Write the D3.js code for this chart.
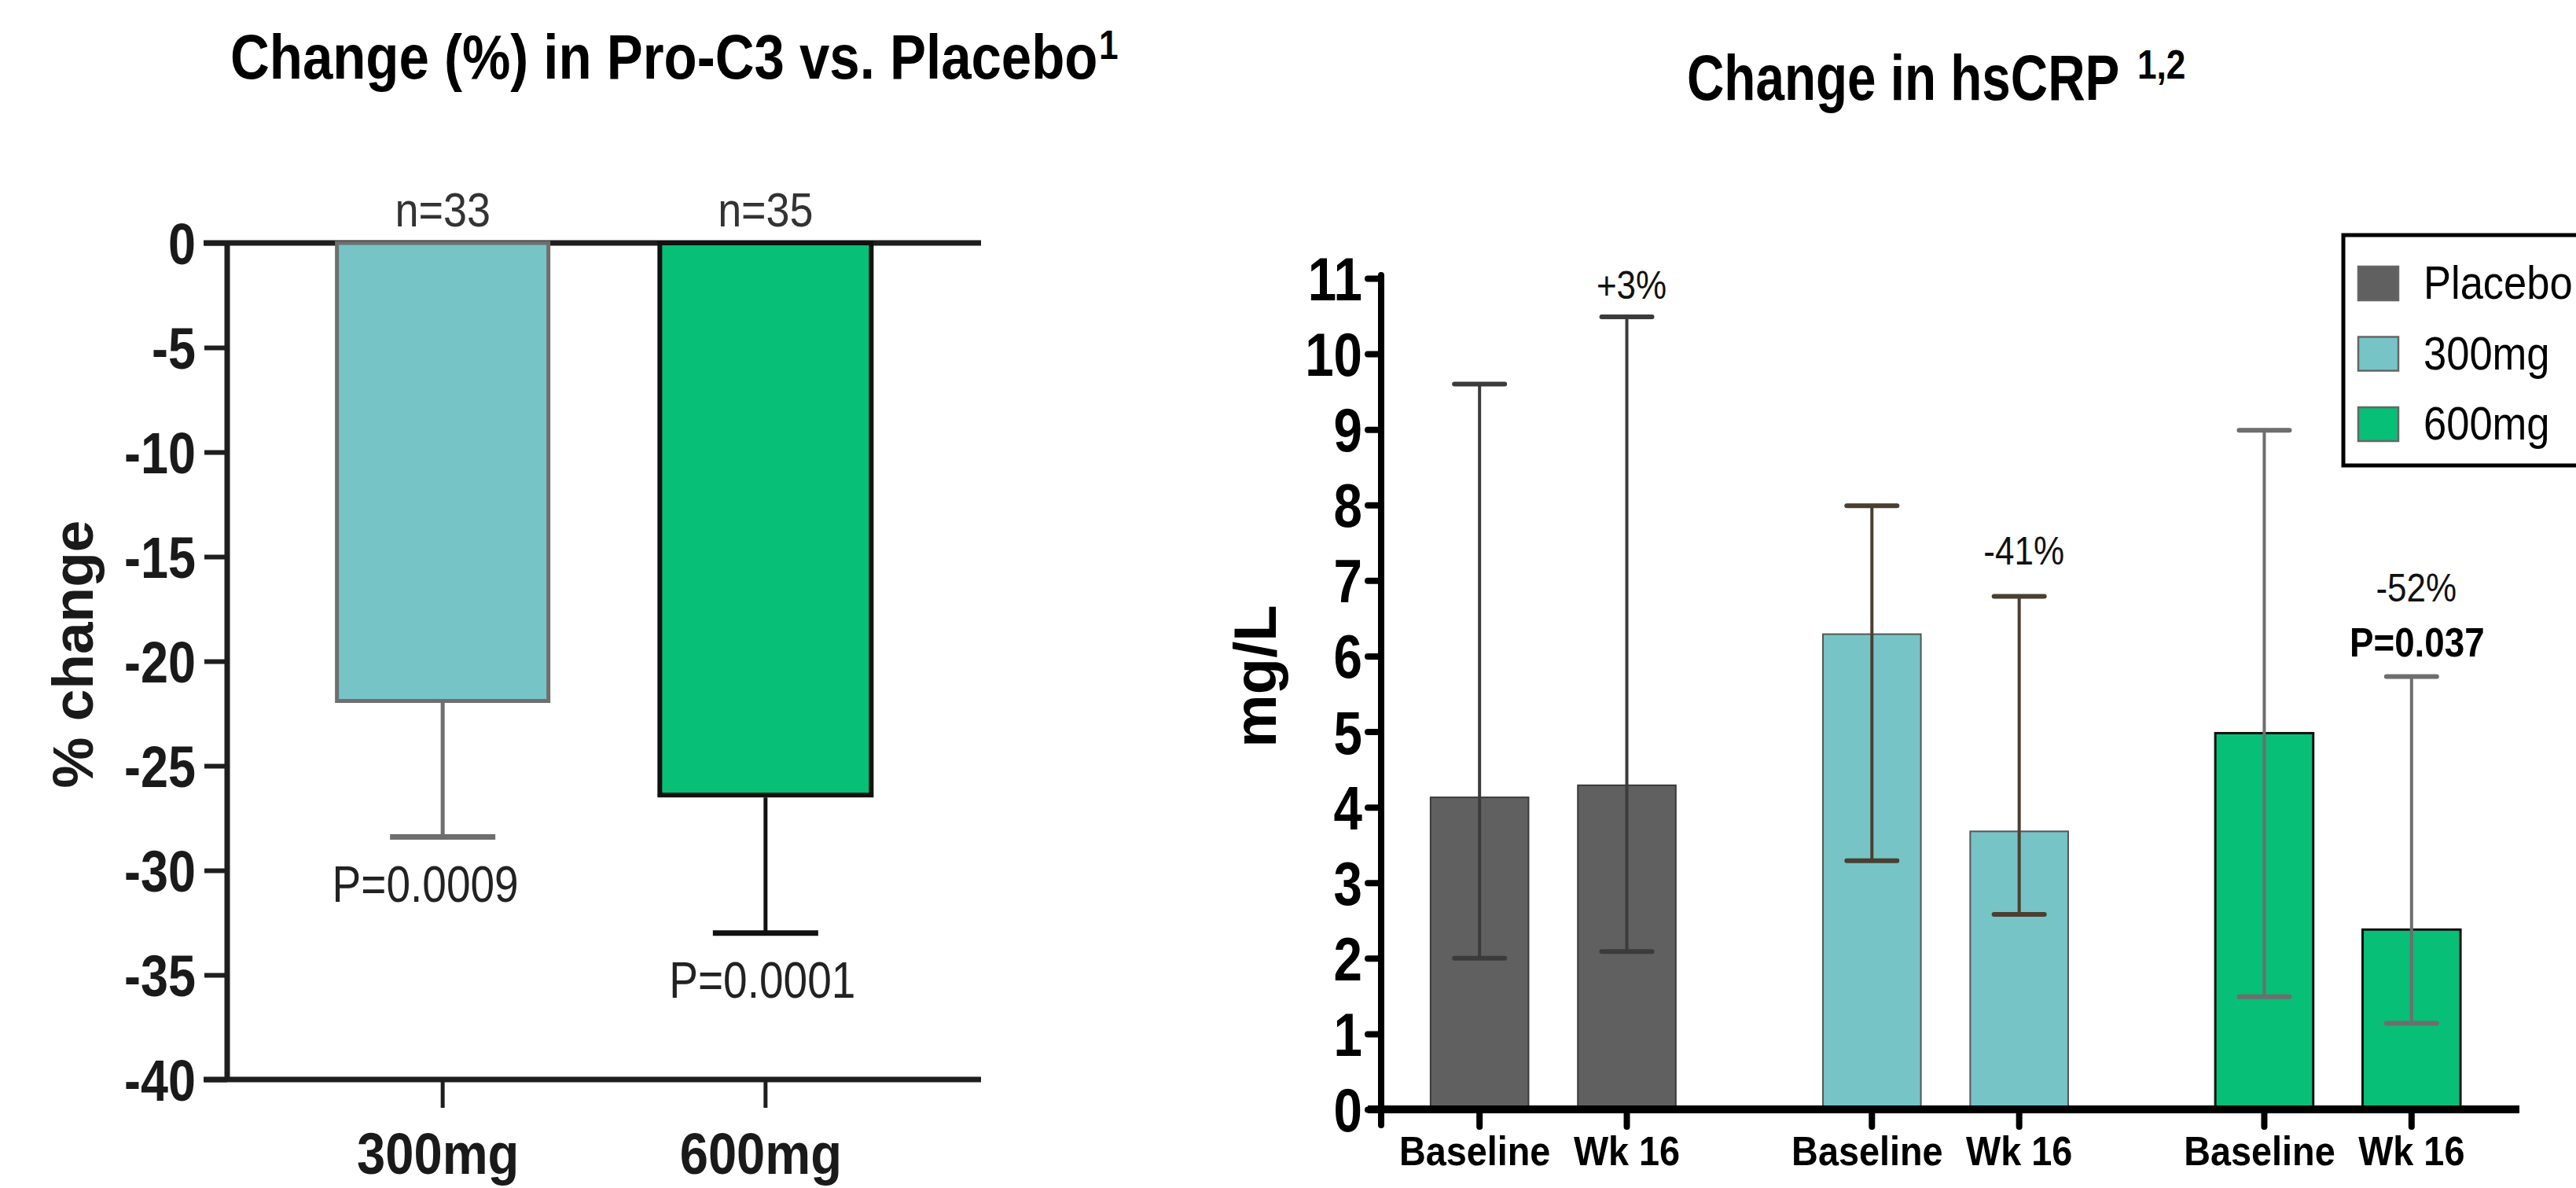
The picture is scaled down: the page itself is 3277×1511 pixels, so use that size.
<!DOCTYPE html>
<html>
<head>
<meta charset="utf-8">
<script src="https://cdn.jsdelivr.net/npm/d3@7"></script>
<style>
  html, body { margin: 0; padding: 0; background: #fff; }
  svg { display: block; }
</style>
</head>
<body>
<script>
// ---- data: left panel (% change in Pro-C3) ----
var pctGroups = ["300mg", "600mg"];
var pctMean = [-21.9, -26.4];
var pctErrLow = [-28.4, -33.0];
var pctN = ["n=33", "n=35"];
var pctP = ["P=0.0009", "P=0.0001"];
var pctPAt = [-31.5, -36.1];
var pctTicks = [0, -5, -10, -15, -20, -25, -30, -35, -40];

// ---- data: right panel (hsCRP mg/L) ----
var crpGroups = ["Placebo", "300mg", "600mg"];
var crpTimes = ["Baseline", "Wk 16"];
var crpMean = [[4.13, 4.29], [6.29, 3.68], [4.98, 2.38]];
var crpLow = [[2.0, 2.09], [3.29, 2.58], [1.49, 1.14]];
var crpHigh = [[9.6, 10.49], [7.99, 6.79], [8.99, 5.73]];
var crpChange = ["+3%", "-41%", "-52%"];
var crpChangeAt = [10.73, 7.21, 6.72];
var crpPval = "P=0.037";
var crpPvalAt = 5.99;
var crpTicks = [0, 1, 2, 3, 4, 5, 6, 7, 8, 9, 10, 11];

var groupFill = {"Placebo": "#606060", "300mg": "#76c4c6", "600mg": "#07bf77"};
var groupStroke = {"Placebo": "#3a3a3a", "300mg": "#555555", "600mg": "#111111"};
var crpErrColor = {"Placebo": "#3b3b3b", "300mg": "#4a3f30", "600mg": "#6e6e6e"};

var W = 3277, H = 1511;
var FONT = "'Liberation Sans', Arial, sans-serif";

var svg = d3.select("body").append("svg")
    .attr("width", W)
    .attr("height", H);

svg.append("rect").attr("width", W).attr("height", H).attr("fill", "#fff");

// text squeezed horizontally, like the narrow fonts of the original
function label(parent, x, y, txt, o) {
    var g = parent.append("g")
        .attr("transform", "translate(" + x + "," + y + ") scale(" + (o.k || 1) + ",1)");
    return g.append("text")
        .attr("text-anchor", o.anchor || "middle")
        .attr("font-family", o.family || FONT)
        .attr("font-size", o.size)
        .attr("font-weight", o.bold ? "bold" : "normal")
        .attr("fill", o.color || "#000")
        .text(txt);
}

// ---------- titles ----------
label(svg, 293, 100, "Change (%) in Pro-C3 vs. Placebo", {size: 80, bold: true, anchor: "start", k: 0.862});
label(svg, 1398, 75, "1", {size: 52, bold: true, anchor: "start", k: 0.85});
label(svg, 2146, 127, "Change in hsCRP", {size: 82, bold: true, anchor: "start", k: 0.80});
label(svg, 2719, 100, "1,2", {size: 52, bold: true, anchor: "start", k: 0.85});

// ---------- left panel ----------
var left = svg.append("g");
var yL = d3.scaleLinear().domain([0, -40]).range([309, 1373]);
var xL = d3.scaleBand().domain(pctGroups).range([289, 1248])
    .paddingInner(0.345).paddingOuter(0.34);

// horizontal lines at 0 and -40
[0, -40].forEach(function(v) {
    left.append("line")
        .attr("x1", 259).attr("x2", 1248)
        .attr("y1", yL(v)).attr("y2", yL(v))
        .attr("stroke", "#1e1e1e").attr("stroke-width", 7);
});

// bars
pctGroups.forEach(function(g, i) {
    var b = left.append("g");
    var sw = i === 0 ? 5 : 6;
    b.append("rect")
        .attr("x", xL(g))
        .attr("y", yL(0))
        .attr("width", xL.bandwidth())
        .attr("height", yL(pctMean[i]) - yL(0))
        .attr("fill", groupFill[g])
        .attr("stroke", i === 0 ? "#6e6e6e" : "#111")
        .attr("stroke-width", sw);
    var cx = xL(g) + xL.bandwidth() / 2;
    var ec = i === 0 ? "#6e6e6e" : "#111";
    b.append("line")
        .attr("x1", cx).attr("x2", cx)
        .attr("y1", yL(pctMean[i]) + sw / 2).attr("y2", yL(pctErrLow[i]))
        .attr("stroke", ec).attr("stroke-width", 5);
    b.append("line")
        .attr("x1", cx - 67).attr("x2", cx + 67)
        .attr("y1", yL(pctErrLow[i])).attr("y2", yL(pctErrLow[i]))
        .attr("stroke", ec).attr("stroke-width", 7);
    label(left, cx, 288, pctN[i], {size: 62, color: "#333", k: 0.87});
    label(left, cx + (i === 0 ? -22 : -4), yL(pctPAt[i]), pctP[i], {size: 64, color: "#222", k: 0.86});
});

// y axis
var axL = left.append("g")
    .attr("transform", "translate(289,0)")
    .call(d3.axisLeft(yL).tickValues(pctTicks).tickSize(29).tickFormat(d3.format("d")));
axL.select(".domain").attr("stroke", "#1e1e1e").attr("stroke-width", 7)
    .attr("d", "M0," + (yL(0) - 3) + "V" + (yL(-40) + 3));
axL.selectAll(".tick line").attr("stroke", "#1e1e1e").attr("stroke-width", 6);
axL.selectAll(".tick text").remove();
pctTicks.forEach(function(t) {
    label(left, 249, yL(t) + 27, t === 0 ? "0" : String(t), {size: 74, bold: true, anchor: "end", k: 0.85, color: "#1a1a1a"});
});

// x axis ticks + labels
var axLx = left.append("g")
    .attr("transform", "translate(0," + yL(-40) + ")")
    .call(d3.axisBottom(xL).tickSize(36));
axLx.select(".domain").remove();
axLx.selectAll(".tick line").attr("stroke", "#1e1e1e").attr("stroke-width", 5);
axLx.selectAll(".tick text").remove();
pctGroups.forEach(function(g) {
    label(left, xL(g) + xL.bandwidth() / 2 - 6, 1493, g, {size: 74, bold: true, k: 0.88, color: "#1a1a1a"});
});

left.append("text")
    .attr("transform", "translate(118,832) rotate(-90)")
    .attr("text-anchor", "middle")
    .attr("font-family", FONT)
    .attr("font-size", 73)
    .attr("font-weight", "bold")
    .attr("fill", "#1a1a1a")
    .text("% change");

// ---------- right panel ----------
var right = svg.append("g");
var yR = d3.scaleLinear().domain([0, 11]).range([1411, 354]);
var x0 = d3.scaleBand().domain(crpGroups).range([1757, 3201])
    .paddingInner(0.375).paddingOuter(0.134).align(0.47);
var x1 = d3.scaleBand().domain(crpTimes).range([0, x0.bandwidth()])
    .paddingInner(0.335).paddingOuter(0);

var rows = [];
crpGroups.forEach(function(g, gi) {
    crpTimes.forEach(function(t, ti) {
        rows.push({g: g, t: t, gi: gi, ti: ti,
            mean: crpMean[gi][ti], lo: crpLow[gi][ti], hi: crpHigh[gi][ti]});
    });
});

var bar = right.selectAll("g.bar").data(rows).enter().append("g")
    .attr("class", "bar")
    .attr("transform", function(d) { return "translate(" + (x0(d.g) + x1(d.t)) + ",0)"; });

bar.append("rect")
    .attr("x", 0)
    .attr("y", function(d) { return yR(d.mean); })
    .attr("width", x1.bandwidth())
    .attr("height", function(d) { return yR(0) - yR(d.mean); })
    .attr("fill", function(d) { return groupFill[d.g]; })
    .attr("stroke", function(d) { return groupStroke[d.g]; })
    .attr("stroke-width", function(d) { return d.g === "600mg" ? 3 : 2; });

var bw = x1.bandwidth();
bar.append("line")
    .attr("x1", bw / 2).attr("x2", bw / 2)
    .attr("y1", function(d) { return yR(d.lo); })
    .attr("y2", function(d) { return yR(d.hi); })
    .attr("stroke", function(d) { return crpErrColor[d.g]; })
    .attr("stroke-width", 4);
["lo", "hi"].forEach(function(k) {
    bar.append("line")
        .attr("x1", bw / 2 - 32).attr("x2", bw / 2 + 32)
        .attr("y1", function(d) { return yR(d[k]); })
        .attr("y2", function(d) { return yR(d[k]); })
        .attr("stroke", function(d) { return crpErrColor[d.g]; })
        .attr("stroke-width", 6)
        .attr("stroke-linecap", "round");
});

// percentage change annotations over the Wk 16 bars
crpGroups.forEach(function(g, gi) {
    var cx = x0(g) + x1("Wk 16") + bw / 2 + 6;
    label(right, cx, yR(crpChangeAt[gi]), crpChange[gi], {size: 50, k: 0.88, color: "#111"});
});
label(right, x0("600mg") + x1("Wk 16") + bw / 2 + 7, yR(crpPvalAt), crpPval, {size: 52, bold: true, k: 0.88});

// y axis
var axR = right.append("g")
    .attr("transform", "translate(1757,0)")
    .call(d3.axisLeft(yR).tickValues(crpTicks).tickSize(17));
axR.select(".domain").attr("stroke", "#000").attr("stroke-width", 8)
    .attr("stroke-linecap", "round")
    .attr("d", "M0," + (yR(11) - 4) + "V" + (yR(0) + 20));
axR.selectAll(".tick line").attr("stroke", "#000").attr("stroke-width", 8).attr("stroke-linecap", "round");
axR.selectAll(".tick text").remove();
crpTicks.forEach(function(t) {
    label(right, 1733, yR(t) + 28, String(t), {size: 78, bold: true, anchor: "end", k: 0.84});
});

// x axis
var axRx = right.append("g")
    .attr("transform", "translate(0," + yR(0) + ")");
axRx.append("line")
    .attr("x1", 1740).attr("x2", 3205)
    .attr("stroke", "#000").attr("stroke-width", 10);
rows.forEach(function(d) {
    var cx = x0(d.g) + x1(d.t) + bw / 2;
    axRx.append("line")
        .attr("x1", cx).attr("x2", cx).attr("y1", 0).attr("y2", 22)
        .attr("stroke", "#000").attr("stroke-width", 8).attr("stroke-linecap", "round");
    label(right, cx - (d.ti === 0 ? 6 : 0), 1482, d.t, {size: 52, bold: true, k: 0.9});
});

right.append("text")
    .attr("transform", "translate(1623,860) rotate(-90)")
    .attr("text-anchor", "middle")
    .attr("font-family", FONT)
    .attr("font-size", 76)
    .attr("font-weight", "bold")
    .text("mg/L");

// legend
var leg = right.append("g").attr("transform", "translate(2981,299)");
leg.append("rect")
    .attr("x", 0).attr("y", 0).attr("width", 400).attr("height", 293)
    .attr("fill", "#fff").attr("stroke", "#000").attr("stroke-width", 5);
crpGroups.forEach(function(g, i) {
    var ry = 40 + i * 89.5;
    leg.append("rect")
        .attr("x", 19).attr("y", ry).attr("width", 51).attr("height", 43)
        .attr("fill", groupFill[g]).attr("stroke", "#666").attr("stroke-width", 2.5);
    label(leg, 102, ry + 41, g, {size: 59, anchor: "start", k: 0.89});
});
</script>
</body>
</html>
